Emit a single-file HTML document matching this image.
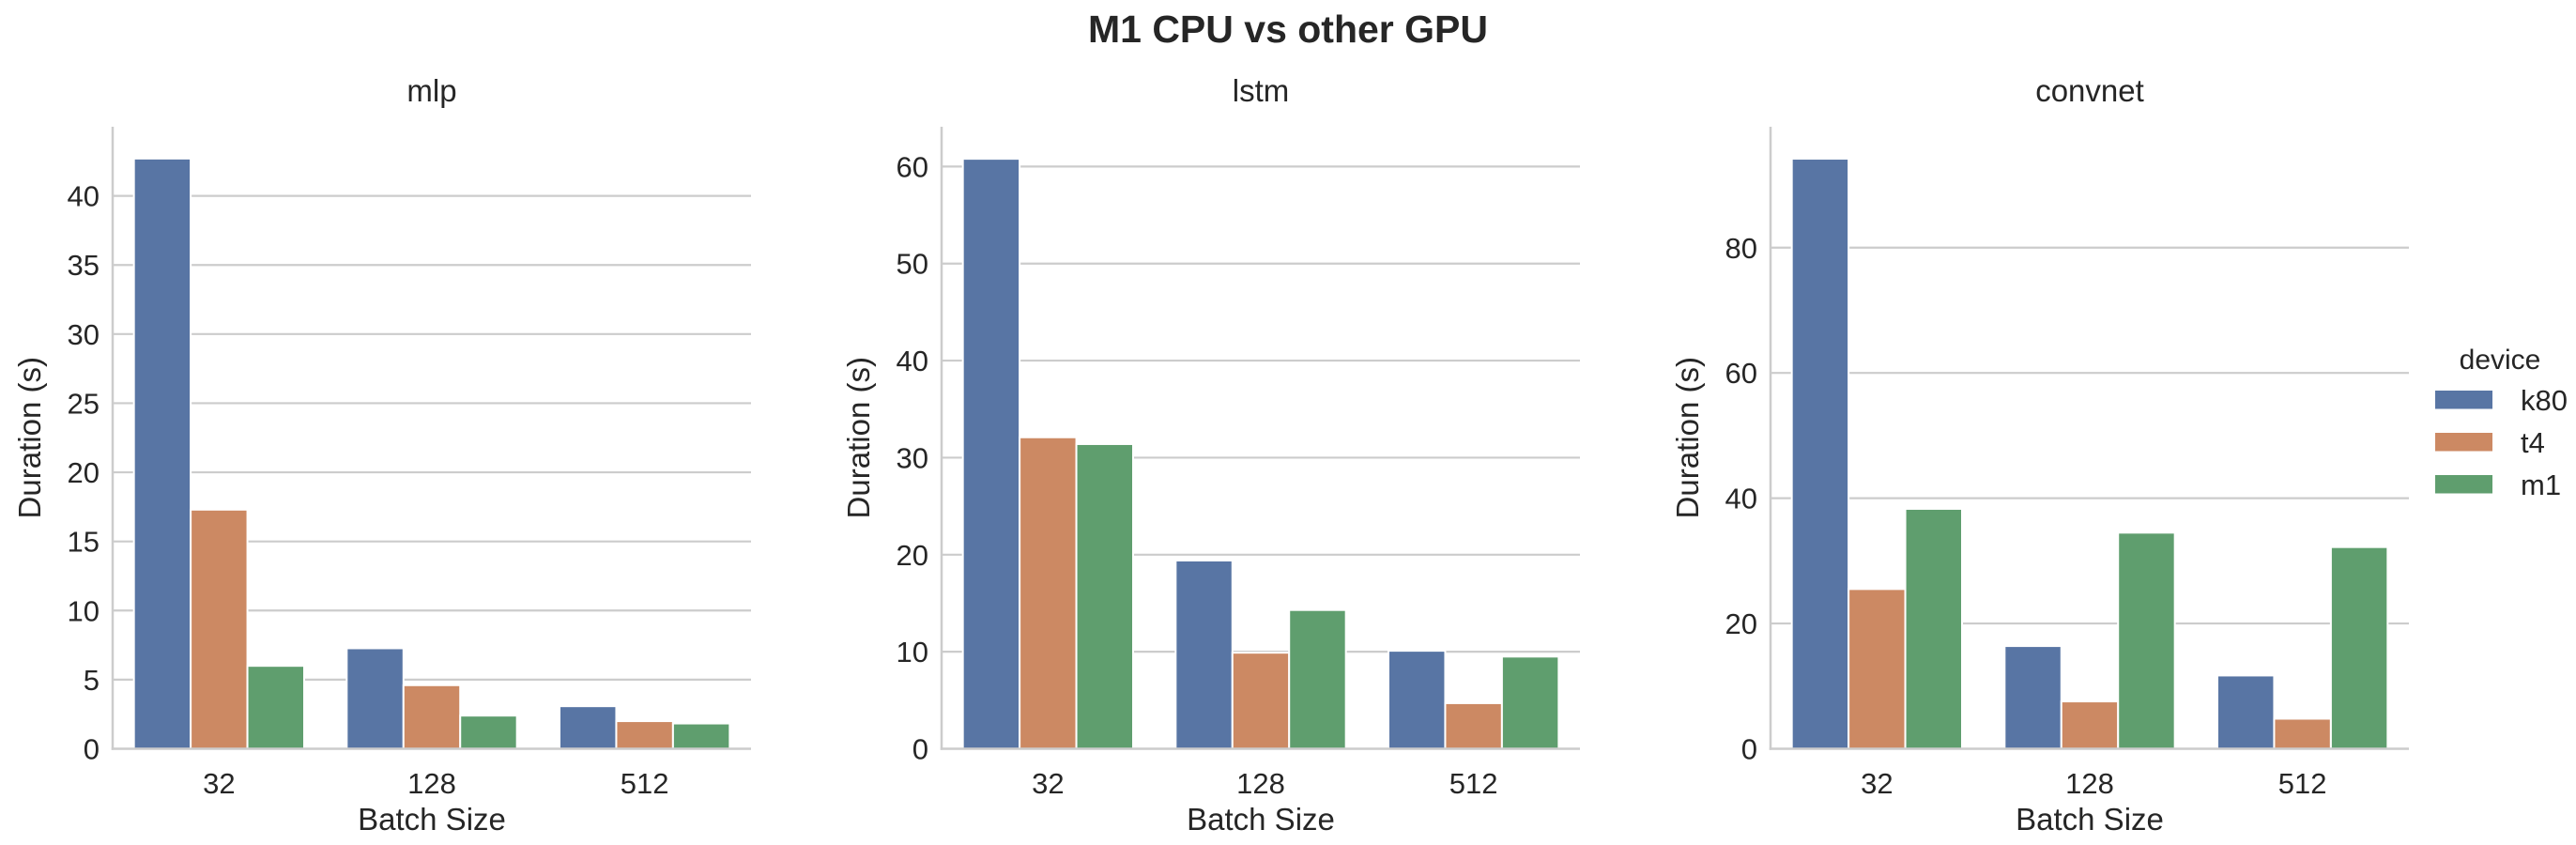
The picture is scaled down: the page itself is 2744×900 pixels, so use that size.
<!DOCTYPE html>
<html><head><meta charset="utf-8">
<style>
html,body{margin:0;padding:0;background:#fff;}
svg{display:block;font-family:"Liberation Sans",sans-serif;}
</style></head>
<body>
<svg id="chart" width="2744" height="900" viewBox="0 0 2744 900">
<text x="1372" y="45" text-anchor="middle" font-size="41" font-weight="bold" fill="#262626">M1 CPU vs other GPU</text>
<g id="panels"></g>
<g id="legend">
<text x="2663" y="393" text-anchor="middle" font-size="30" fill="#262626">device</text>
</g>
</svg>
<script>
const categories = ["32", "128", "512"];
const devices = ["k80", "t4", "m1"];
const panelTitles = ["mlp", "lstm", "convnet"];
const mlpK80 = [42.7, 7.27, 3.08];
const mlpT4 = [17.3, 4.6, 2.0];
const mlpM1 = [6.0, 2.4, 1.83];
const lstmK80 = [60.8, 19.4, 10.1];
const lstmT4 = [32.1, 9.9, 4.7];
const lstmM1 = [31.4, 14.3, 9.5];
const convK80 = [94.2, 16.4, 11.7];
const convT4 = [25.5, 7.56, 4.8];
const convM1 = [38.3, 34.5, 32.2];
const mlpTicks = [0, 5, 10, 15, 20, 25, 30, 35, 40];
const lstmTicks = [0, 10, 20, 30, 40, 50, 60];
const convTicks = [0, 20, 40, 60, 80];
const yMaxes = [45, 64.1, 99.3];

const colors = ["#5875a4", "#cc8963", "#5f9e6e"];
const NS = "http://www.w3.org/2000/svg";
function mk(tag, attrs, parent){
  const e = document.createElementNS(NS, tag);
  for (const k in attrs) e.setAttribute(k, attrs[k]);
  parent.appendChild(e);
  return e;
}
const panelsG = document.getElementById("panels");
const series = [[mlpK80, mlpT4, mlpM1],[lstmK80, lstmT4, lstmM1],[convK80, convT4, convM1]];
const ticksAll = [mlpTicks, lstmTicks, convTicks];
const axLefts = [120, 1003, 1886];
const axW = 680, axTop = 135, axBottom = 797.5;

for (let p = 0; p < 3; p++){
  const L = axLefts[p], yMax = yMaxes[p];
  const y = v => axBottom - v / yMax * (axBottom - axTop);
  const catW = axW / categories.length;
  const xc = i => L + catW * (i + 0.5);
  const g = mk("g", {}, panelsG);
  
  
  ticksAll[p].forEach(t => {
    if (t === 0) return;
    const ln = mk("line", {x1: L, x2: L + axW, y1: y(t), y2: y(t), stroke: "#cccccc", "stroke-width": 2.2}, g);
    
    
  });
  ticksAll[p].forEach(t => {
    const tx = mk("text", {x: L - 14, y: y(t) + 11, "text-anchor": "end", "font-size": 31, fill: "#262626"}, g);
    tx.textContent = t;
    
    
  });
  const groupW = catW * 0.8, bw = groupW / 3;
  for (let s = 0; s < 3; s++){
    series[p][s].forEach((v, i) => {
      const x0 = xc(i) - groupW / 2 + s * bw;
      const r = mk("rect", {x: x0, y: y(v), width: bw, height: axBottom - y(v), fill: colors[s], stroke: "#fff", "stroke-width": 2}, g);
      
      
    });
  }
  const sp1 = mk("line", {x1: L, x2: L, y1: axTop, y2: axBottom + 1.2, stroke: "#cccccc", "stroke-width": 2.5}, g);
  
  
  const sp2 = mk("line", {x1: L - 1.2, x2: L + axW, y1: axBottom, y2: axBottom, stroke: "#cccccc", "stroke-width": 2.5}, g);
  
  
  categories.forEach((c, i) => {
    const tx = mk("text", {x: xc(i), y: 845, "text-anchor": "middle", "font-size": 31, fill: "#262626"}, g);
    tx.textContent = c;
    
    
  });
  const xl = mk("text", {x: L + axW / 2, y: 884, "text-anchor": "middle", "font-size": 33, fill: "#262626"}, g);
  xl.textContent = "Batch Size";
  
  
  const yl = mk("text", {x: 0, y: 0, "text-anchor": "middle", "font-size": 33, fill: "#262626", transform: "translate(" + (L - 77) + "," + ((axTop + axBottom) / 2) + ") rotate(-90)"}, g);
  yl.textContent = "Duration (s)";
  
  
  const tt = mk("text", {x: L + axW / 2, y: 108, "text-anchor": "middle", "font-size": 33, fill: "#262626"}, g);
  tt.textContent = panelTitles[p];
  
  
}
const lg = document.getElementById("legend");
devices.forEach((d, i) => {
  const yy = 416 + i * 45;
  const r = mk("rect", {x: 2594, y: yy, width: 61, height: 19.5, fill: colors[i]}, lg);
  
  
  const t = mk("text", {x: 2685, y: yy + 21, "font-size": 31, fill: "#262626"}, lg);
  t.textContent = d;
  
  
});
</script>
</body></html>
